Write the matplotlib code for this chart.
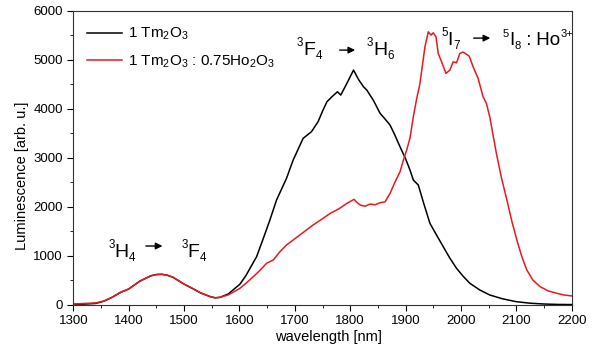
import matplotlib.pyplot as plt
from matplotlib.ticker import MultipleLocator

plt.rcParams['font.family'] = ['Liberation Sans', 'DejaVu Sans']
plt.rcParams['mathtext.fontset'] = 'custom'
plt.rcParams['mathtext.rm'] = 'Liberation Sans'
plt.rcParams['mathtext.it'] = 'Liberation Sans'

# === Data ===
tm_wl = [1300, 1320, 1340, 1355, 1370, 1385, 1400, 1420, 1440, 1450, 1460, 1470,
         1480, 1500, 1517, 1530, 1547, 1556, 1565, 1580, 1601, 1612, 1631, 1643,
         1655, 1667, 1685, 1697, 1715, 1730, 1742, 1750, 1758, 1767, 1777, 1783,
         1794, 1806, 1815, 1824, 1830, 1842, 1854, 1863, 1872, 1880, 1890, 1900,
         1908, 1914, 1923, 1933, 1944, 1956, 1968, 1980, 1992, 2004, 2016, 2034,
         2052, 2075, 2100, 2125, 2149, 2175, 2200]
tm_lum = [8, 12, 25, 70, 150, 250, 320, 480, 590, 615, 620, 600,
          560, 420, 320, 240, 165, 140, 150, 220, 420, 600, 980, 1350,
          1729, 2137, 2580, 2953, 3396, 3531, 3735, 3950, 4143, 4245, 4347, 4280,
          4518, 4790, 4600, 4449, 4382, 4170, 3906, 3790, 3667, 3480, 3224, 2980,
          2749, 2545, 2443, 2060, 1661, 1420, 1184, 950, 743, 580, 437, 300,
          198, 120, 61, 30, 14, 5, 2]

ho_wl = [1300, 1320, 1340, 1355, 1370, 1385, 1400, 1420, 1440, 1450, 1460, 1470,
         1480, 1500, 1517, 1530, 1547, 1556, 1565, 1580, 1601, 1612, 1625, 1637,
         1649, 1661, 1673, 1685, 1709, 1733, 1748, 1764, 1780, 1794, 1807, 1812,
         1818, 1827, 1836, 1845, 1854, 1863, 1872, 1880, 1890, 1896, 1902, 1908,
         1914, 1920, 1926, 1935, 1941, 1946, 1950, 1955, 1959, 1965, 1973, 1980,
         1986, 1992, 1998, 2004, 2015, 2022, 2031, 2040, 2046, 2052, 2064, 2073,
         2083, 2092, 2101, 2110, 2119, 2130, 2143, 2158, 2173, 2185, 2200]
ho_lum = [12, 25, 35, 75, 150, 250, 320, 480, 590, 615, 620, 600,
          560, 420, 320, 240, 165, 140, 150, 200, 335, 440, 571, 700,
          845, 912, 1080, 1218, 1422, 1627, 1740, 1865, 1960, 2069, 2151, 2090,
          2035, 2010, 2055, 2040, 2082, 2100, 2273, 2480, 2714, 2950, 3157, 3400,
          3837, 4200, 4518, 5265, 5571, 5504, 5551, 5469, 5129, 4959, 4722, 4790,
          4959, 4939, 5129, 5157, 5075, 4857, 4620, 4245, 4110, 3837, 3090, 2600,
          2137, 1700, 1320, 980, 708, 500, 367, 280, 233, 200, 178]

xticks = [1300, 1400, 1500, 1600, 1700, 1800, 1900, 2000, 2100, 2200]
yticks = [0, 1000, 2000, 3000, 4000, 5000, 6000]

# === Plot ===
fig = plt.figure(figsize=(5.98, 3.49), dpi=100)
ax = fig.add_axes([0.1226, 0.127, 0.8334, 0.842])

ax.plot(tm_wl, tm_lum, color='black', lw=1.1, label='1 Tm$_2$O$_3$')
ax.plot(ho_wl, ho_lum, color='#e8191f', lw=1.1, label='1 Tm$_2$O$_3$ : 0.75Ho$_2$O$_3$')

ax.set_xlim(1300, 2200)
ax.set_ylim(0, 6000)
ax.set_xticks(xticks)
ax.set_yticks(yticks)
ax.xaxis.set_minor_locator(MultipleLocator(50))
ax.yaxis.set_minor_locator(MultipleLocator(500))
ax.tick_params(which='both', direction='out', top=False, right=False, labelsize=9.5)
ax.tick_params(which='major', length=4)
ax.tick_params(which='minor', length=2.5)
for s in ax.spines.values():
    s.set_color('#333333')

ax.set_xlabel('wavelength [nm]', fontsize=10.5)
ax.set_ylabel('Luminescence [arb. u.]', fontsize=10.5)
ax.xaxis.set_label_coords(0.511, -0.085)
ax.yaxis.set_label_coords(-0.088, 0.44)

ax.legend(loc='upper left', frameon=False, fontsize=11, handlelength=2.3,
          handletextpad=0.35, labelspacing=0.7, borderaxespad=0, borderpad=0,
          bbox_to_anchor=(0.0275, 0.948))

# transition labels: small raised / lowered indices built piece by piece
renderer = fig.canvas.get_renderer()


def term(x, y, parts, size=14):
    off = 0
    for s, kind in parts:
        fs = size if kind == 'n' else size * 0.6
        dy = {'n': 0, 'sup': size * 0.45, 'sub': -size * 0.22}[kind]
        t = ax.annotate(s, xy=(x, y), xytext=(off, dy), textcoords='offset points',
                        fontsize=fs, va='baseline', ha='left')
        off += t.get_window_extent(renderer).width * 72 / fig.dpi


arrow = dict(arrowstyle='-|>', color='black', lw=1, mutation_scale=10)
term(1363, 973, [('3', 'sup'), ('H', 'n'), ('4', 'sub')])
ax.annotate('', xy=(1466, 1198), xytext=(1426, 1198), arrowprops=arrow)
term(1495, 973, [('3', 'sup'), ('F', 'n'), ('4', 'sub')])

term(1704, 5096, [('3', 'sup'), ('F', 'n'), ('4', 'sub')])
ax.annotate('', xy=(1814, 5198), xytext=(1776, 5198), arrowprops=arrow)
term(1830, 5096, [('3', 'sup'), ('H', 'n'), ('6', 'sub')])

term(1964, 5300, [('5', 'sup'), ('I', 'n'), ('7', 'sub')])
ax.annotate('', xy=(2058, 5443), xytext=(2018, 5443), arrowprops=arrow)
term(2076, 5300, [('5', 'sup'), ('I', 'n'), ('8', 'sub'), (' :', 'n'), (' Ho', 'n'), ('3+', 'sup')],
     size=13.5)

fig.savefig('out.png', dpi=100)
